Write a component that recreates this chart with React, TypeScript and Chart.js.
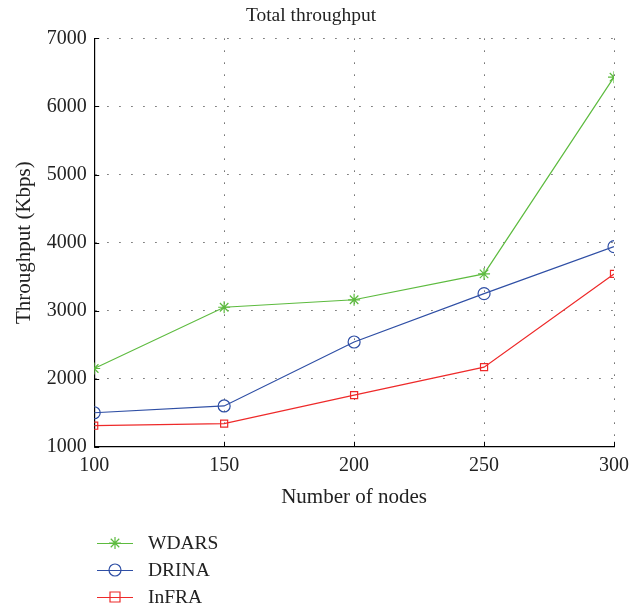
import React, { useEffect, useRef } from "react";
import { Chart, registerables } from "chart.js";

Chart.register(...registerables);

const nodes = [100, 150, 200, 250, 300];
const wdars = [2150, 3050, 3160, 3540, 6430];
const drina = [1500, 1600, 2540, 3250, 3940];
const infra = [1310, 1340, 1760, 2170, 3540];

const FONT = "'Liberation Serif', 'DejaVu Serif', serif";

const innerTicks = {
  id: "innerTicks",
  afterDraw(chart: any) {
    const ctx = chart.ctx;
    const { x, y } = chart.scales;
    const area = chart.chartArea;
    ctx.save();
    ctx.strokeStyle = "#000";
    ctx.lineWidth = 1;
    ctx.beginPath();
    y.ticks.forEach((t: any) => {
      const py = Math.round(y.getPixelForValue(t.value)) + 0.5;
      ctx.moveTo(area.left, py);
      ctx.lineTo(area.left + 5, py);
    });
    x.ticks.forEach((t: any) => {
      const px = Math.round(x.getPixelForValue(t.value)) + 0.5;
      ctx.moveTo(px, area.bottom);
      ctx.lineTo(px, area.bottom - 5);
    });
    ctx.stroke();
    ctx.restore();
  },
};

function drawMarker(ctx: any, style: string, cx: number, cy: number, r: number) {
  ctx.beginPath();
  if (style === "circle") {
    ctx.arc(cx, cy, r, 0, Math.PI * 2);
  } else if (style === "rect") {
    ctx.rect(cx - r, cy - r, 2 * r, 2 * r);
  } else if (style === "star") {
    for (let i = 0; i < 4; i++) {
      const a = (i * Math.PI) / 4;
      ctx.moveTo(cx - Math.cos(a) * r, cy - Math.sin(a) * r);
      ctx.lineTo(cx + Math.cos(a) * r, cy + Math.sin(a) * r);
    }
  }
  ctx.stroke();
}

const customLegend = {
  id: "customLegend",
  afterDraw(chart: any) {
    const ctx = chart.ctx;
    ctx.save();
    ctx.font = `19.5px ${FONT}`;
    ctx.textBaseline = "middle";
    chart.data.datasets.forEach((ds: any, i: number) => {
      const cy = 543 + i * 27;
      ctx.strokeStyle = ds.borderColor;
      ctx.lineWidth = 1.2;
      ctx.beginPath();
      ctx.moveTo(97, cy + 0.5);
      ctx.lineTo(133, cy + 0.5);
      ctx.stroke();
      drawMarker(ctx, ds.pointStyle, 115, cy, ds.pointRadius);
      ctx.fillStyle = "#222";
      ctx.fillText(ds.label, 148, cy + 1);
    });
    ctx.restore();
  },
};

const gridDash = [1.5, 10.5];

export default function App() {
  const ref = useRef<HTMLCanvasElement>(null);
  useEffect(() => {
    const toPts = (arr: number[]) => arr.map((v, i) => ({ x: nodes[i], y: v }));
    const chart = new Chart(ref.current!, {
      type: "line",
      data: {
        datasets: [
          {
            label: "WDARS",
            data: toPts(wdars),
            borderColor: "#5dbb3f",
            backgroundColor: "#5dbb3f",
            pointStyle: "star",
            pointRadius: 6,
            pointBorderWidth: 1.2,
            borderWidth: 1.2,
          },
          {
            label: "DRINA",
            data: toPts(drina),
            borderColor: "#2f4fa5",
            backgroundColor: "rgba(0,0,0,0)",
            pointStyle: "circle",
            pointRadius: 6,
            pointBorderWidth: 1.2,
            borderWidth: 1.2,
          },
          {
            label: "InFRA",
            data: toPts(infra),
            borderColor: "#ee2a2a",
            backgroundColor: "rgba(0,0,0,0)",
            pointStyle: "rect",
            pointRadius: 5,
            pointBorderWidth: 1.2,
            borderWidth: 1.2,
          },
        ],
      },
      options: {
        animation: false,
        responsive: false,
        layout: { padding: { left: 8, right: 25, top: 3, bottom: 93 } },
        plugins: {
          legend: { display: false },
          tooltip: { enabled: false },
          title: {
            display: true,
            text: "Total throughput",
            color: "#222",
            font: { family: FONT, size: 19.5, weight: "normal" },
            padding: { top: 1, bottom: 11 },
          },
        },
        scales: {
          x: {
            type: "linear",
            min: 100,
            max: 300,
            ticks: {
              stepSize: 50,
              color: "#222",
              font: { family: FONT, size: 20 },
              padding: 7,
              callback: (v: any) => String(v),
            },
            grid: {
              drawTicks: false,
              color: "#666",
              lineWidth: 1,
            } as any,
            border: { display: true, color: "#000", width: 1.2, dash: gridDash } as any,
            title: {
              display: true,
              text: "Number of nodes",
              color: "#222",
              font: { family: FONT, size: 21 },
              padding: { top: 0 },
            },
          },
          y: {
            min: 1000,
            max: 7000,
            ticks: {
              stepSize: 1000,
              color: "#222",
              font: { family: FONT, size: 20 },
              padding: 7.5,
              callback: (v: any) => String(v),
            },
            grid: {
              drawTicks: false,
              color: "#666",
              lineWidth: 1,
            } as any,
            border: { display: true, color: "#000", width: 1.2, dash: gridDash } as any,
            title: {
              display: true,
              text: "Throughput (Kbps)",
              color: "#222",
              font: { family: FONT, size: 21 },
              padding: { bottom: 2 },
            },
          },
        },
      },
      plugins: [innerTicks, customLegend],
    });
    return () => chart.destroy();
  }, []);
  return (
    <div style={{ position: "fixed", left: 0, top: 0, width: 639, height: 607, background: "#fff" }}>
      <canvas ref={ref} width={639} height={607} />
    </div>
  );
}
